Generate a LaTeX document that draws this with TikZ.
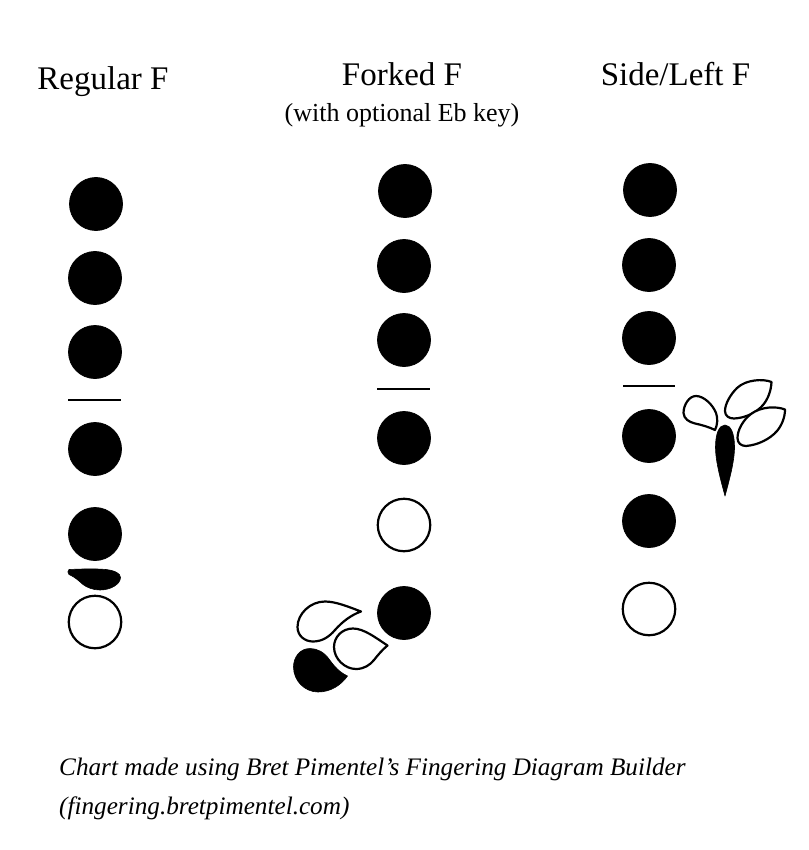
\documentclass[tikz,border=0pt]{standalone}
\usepackage{fontspec}
\setmainfont{Liberation Serif}
\tikzset{
  closedhole/.style={circle,draw=black,fill=black,line width=0.8pt,minimum size=53pt,inner sep=0pt},
  openhole/.style={circle,draw=black,fill=white,line width=2.2pt,minimum size=52.5pt,inner sep=0pt},
  breakline/.style={line width=1.7pt,black},
  keyout/.style={draw=black,fill=white,line width=2.2pt,line join=round},
  keyfill/.style={draw=black,fill=black,line width=0.6pt,line join=round},
  title/.style={font=\fontsize{33}{38}\selectfont,text=black,anchor=base,inner sep=0pt},
  subtitle/.style={font=\fontsize{26}{30}\selectfont,text=black,anchor=base,inner sep=0pt},
  credit/.style={font=\fontsize{25.2}{30}\selectfont\itshape,text=black,anchor=base west,inner sep=0pt}
}
\begin{document}
\begin{tikzpicture}[x=1pt,y=-1pt]
\useasboundingbox[fill=white] (0,0) rectangle (808,850);
% titles
\node[title] (t1) at (103,89.3) {Regular F};
\node[title] (t2) at (402,85.7) {Forked F};
\node[subtitle] (t2b) at (402,121.7) {(with optional Eb key)};
\node[title] (t3) at (675.5,85.5) {Side/Left F};
% regular F
\node[closedhole] (a1) at (96,204) {};
\node[closedhole] (a2) at (95,278) {};
\node[closedhole] (a3) at (95,352) {};
\coordinate (a4l) at (68,400); \coordinate (a4r) at (121,400);
\draw[breakline] (a4l) -- (a4r);
\node[closedhole] (a5) at (95,449) {};
\node[closedhole] (a6) at (95,534) {};
\node[openhole] (a7) at (95,622) {};
\path[keyfill] (69,569.5) .. controls (80,569) and (95,568.5) .. (106,569.5)
  .. controls (114,570.5) and (120.5,573) .. (120.5,577.5)
  .. controls (120.5,584) and (111,590) .. (100,590)
  .. controls (93,590) and (87,587.5) .. (83,584.5)
  .. controls (79,581) and (75,577) .. (69,574.5)
  .. controls (67.5,573) and (67.5,570.5) .. (69,569.5) -- cycle;
% forked F
\node[closedhole] (b1) at (405,191) {};
\node[closedhole] (b2) at (404,266) {};
\node[closedhole] (b3) at (404,340) {};
\coordinate (b4l) at (377,389); \coordinate (b4r) at (430,389);
\draw[breakline] (b4l) -- (b4r);
\node[closedhole] (b5) at (404,438) {};
\node[openhole] (b6) at (404,525) {};
\node[closedhole] (b7) at (404,613) {};
\path[keyout] (361,611.5) .. controls (349,607) and (336,601.5) .. (325,601.5)
  .. controls (310,601.5) and (297.5,614) .. (297.5,627)
  .. controls (297.5,636) and (305,641.5) .. (313,641.5)
  .. controls (322,641.5) and (329,637) .. (335,630)
  .. controls (342,622) and (351,615) .. (361,611.5) -- cycle;
\path[keyout] (387.5,645.5) .. controls (376,638) and (364,628.5) .. (353,628.5)
  .. controls (342,628.5) and (334,637) .. (334,647)
  .. controls (334,659) and (345,669) .. (356,669)
  .. controls (364,669) and (370,665) .. (374,660)
  .. controls (378,655) and (382,650) .. (387.5,645.5) -- cycle;
\path[keyfill] (347.5,676) .. controls (339,672) and (334,666) .. (329,659)
  .. controls (324,652) and (317,648.5) .. (310,648.5)
  .. controls (300,648.5) and (293.5,657) .. (293.5,667)
  .. controls (293.5,681) and (305,692) .. (318,692)
  .. controls (331,692) and (341,685) .. (347.5,676) -- cycle;
% side F
\node[closedhole] (c1) at (650,190) {};
\node[closedhole] (c2) at (649,265) {};
\node[closedhole] (c3) at (649,338) {};
\coordinate (c4l) at (623,386); \coordinate (c4r) at (675,386);
\draw[breakline] (c4l) -- (c4r);
\node[closedhole] (c5) at (649,436) {};
\node[closedhole] (c6) at (649,521) {};
\node[openhole] (c7) at (649,609) {};
\path[keyout] (715,430) .. controls (717.5,425) and (718,418) .. (716,413)
  .. controls (713,405) and (704,396) .. (696,396)
  .. controls (689,396) and (683.5,405) .. (683.5,413)
  .. controls (684,419) and (689,422) .. (695,423.5)
  .. controls (702,425) and (709,427) .. (715,430) -- cycle;
\path[keyout] (771.5,382) .. controls (763,378.5) and (746,379.5) .. (737,388)
  .. controls (730,395) and (725,404) .. (725,411)
  .. controls (725,416) and (729,418.5) .. (734,418.5)
  .. controls (746,418) and (757,412) .. (763,405)
  .. controls (768,399) and (771,391) .. (771.5,382) -- cycle;
\path[keyout] (785,409.5) .. controls (776,406) and (761,406.5) .. (751,414)
  .. controls (743,420) and (737.5,430) .. (737.5,438)
  .. controls (737.5,443) and (741,446) .. (746,446)
  .. controls (758,445) and (770,439) .. (777,431)
  .. controls (782,425) and (785,417) .. (785,409.5) -- cycle;
\path[keyfill] (725,425) .. controls (719,425) and (715.5,434) .. (715.5,447)
  .. controls (715.5,462) and (721,481) .. (725,496)
  .. controls (729,481) and (734.5,462) .. (734.5,447)
  .. controls (734.5,434) and (731,425) .. (725,425) -- cycle;
% credit
\node[credit] (f1) at (59,775) {Chart made using Bret Pimentel’s Fingering Diagram Builder};
\node[credit] (f2) at (59,814.3) {(fingering.bretpimentel.com)};
\end{tikzpicture}
\end{document}
